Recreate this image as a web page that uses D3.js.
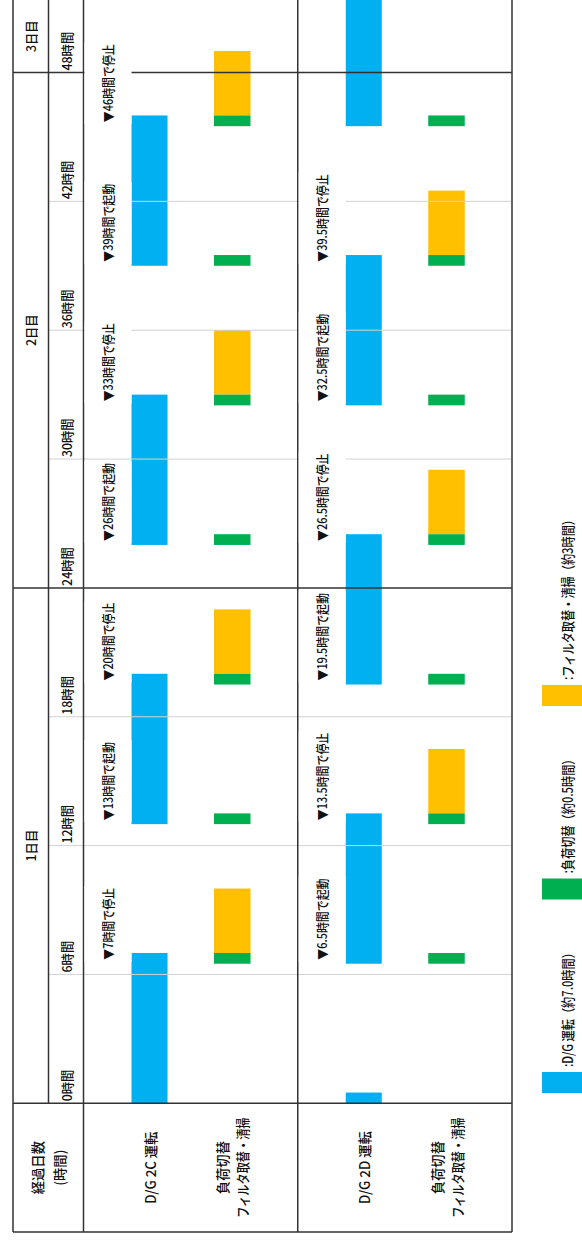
<!DOCTYPE html>
<html>
<head>
<meta charset="utf-8">
<script src="https://cdn.jsdelivr.net/npm/d3@7"></script>
<style>
  body { margin: 0; background: #fff; }
  svg { display: block; }
  text { font-family: "Noto Sans CJK JP", "Noto Sans", sans-serif; fill: #111; font-weight: 500; }
</style>
</head>
<body>
<svg id="chart"></svg>
<script>
// ---- data (hours) ----
const units = ["D/G 2C", "D/G 2D"];
const hourTicks = [0, 6, 12, 18, 24, 30, 36, 42, 48];
const dayNames = ["1日目", "2日目", "3日目"];
const dayStarts = [0, 24, 48];

const run2C = [[0, 7], [13, 20], [26, 33], [39, 46]];
const run2D = [[0, 0.5], [6.5, 13.5], [19.5, 26.5], [32.5, 39.5], [45.5, 52.5]];
const switch2C = [[6.5, 7], [13, 13.5], [19.5, 20], [26, 26.5], [32.5, 33], [39, 39.5], [45.5, 46]];
const switch2D = [[6.5, 7], [13, 13.5], [19.5, 20], [26, 26.5], [32.5, 33], [39, 39.5], [45.5, 46]];
const filter2C = [[7, 10], [20, 23], [33, 36], [46, 49]];
const filter2D = [[13.5, 16.5], [26.5, 29.5], [39.5, 42.5]];

const events2C = [[7, "停止"], [13, "起動"], [20, "停止"], [26, "起動"], [33, "停止"], [39, "起動"], [46, "停止"]];
const events2D = [[6.5, "起動"], [13.5, "停止"], [19.5, "起動"], [26.5, "停止"], [32.5, "起動"], [39.5, "停止"]];

const headerLabels = ["経過日数", "(時間)"];
const switchLabels = ["負荷切替", "フィルタ取替・清掃"];
const legendLabels = [":D/G  運転（約7.0時間）", ":負荷切替（約0.5時間）", ":フィルタ取替・清掃（約3時間）"];
const colors = ["#00b0f0", "#00b050", "#ffc000"];

// ---- layout ----
const W = 582, H = 1240;
const tbl = { left: 13, dayRight: 48.5, timeRight: 83.5, right: 512, headTop: 1103.3, bottom: 1232 };

const svg = d3.select("#chart").attr("width", W).attr("height", H);

const y = d3.scaleLinear().domain([0, 48]).range([tbl.headTop, 72.5]);
const topHour = y.invert(0);
const xGroup = d3.scaleBand().domain(units).range([tbl.timeRight, tbl.right]);
// columns inside one unit group
const col = { label: 23.5, run: [48, 84], sw: [130.5, 167] };

const groups = [
  { unit: units[0], run: run2C, sw: switch2C, filter: filter2C, events: events2C },
  { unit: units[1], run: run2D, sw: switch2D, filter: filter2D, events: events2D },
];

function vtext(parent, x, yy, str, size, anchor, sx) {
  return parent.append("g")
    .attr("transform", `translate(${x},${yy}) rotate(-90) scale(${sx},1)`)
    .append("text")
    .attr("text-anchor", anchor)
    .attr("dominant-baseline", "central")
    .style("font-size", size + "px")
    .text(str);
}

// ---- bars ----
const bars = svg.append("g");
groups.forEach((g) => {
  const x0 = xGroup(g.unit);
  const layer = (data, cols, color) => bars.append("g")
    .selectAll("rect")
    .data(data)
    .join("rect")
    .attr("x", x0 + cols[0])
    .attr("width", cols[1] - cols[0])
    .attr("y", (d) => y(d[1]))
    .attr("height", (d) => y(d[0]) - y(d[1]))
    .attr("fill", color);
  layer(g.run, col.run, colors[0]);
  layer(g.filter, col.sw, colors[2]);
  layer(g.sw, col.sw, colors[1]);
});

// ---- grid ----
const grid = svg.append("g");
grid.selectAll("line.minor")
  .data(hourTicks.filter((h) => h % 24 !== 0))
  .join("line")
  .attr("x1", tbl.dayRight).attr("x2", tbl.right)
  .attr("y1", (d) => y(d)).attr("y2", (d) => y(d))
  .attr("stroke", "#d2d2d2").attr("stroke-width", 1);
grid.selectAll("line.day")
  .data(dayStarts.filter((h) => h > 0))
  .join("line")
  .attr("x1", tbl.left).attr("x2", tbl.right)
  .attr("y1", (d) => y(d)).attr("y2", (d) => y(d))
  .attr("stroke", "#333").attr("stroke-width", 1.5);

// ---- table frame ----
const frame = [
  [tbl.left, 0, tbl.left, tbl.bottom],
  [tbl.dayRight, 0, tbl.dayRight, tbl.headTop],
  [tbl.timeRight, 0, tbl.timeRight, tbl.bottom],
  [xGroup(units[1]), 0, xGroup(units[1]), tbl.bottom],
  [tbl.right, 0, tbl.right, tbl.bottom],
  [tbl.left, tbl.headTop, tbl.right, tbl.headTop],
  [tbl.left, tbl.bottom, tbl.right, tbl.bottom],
];
svg.append("g").selectAll("line")
  .data(frame)
  .join("line")
  .attr("x1", (d) => d[0]).attr("y1", (d) => d[1])
  .attr("x2", (d) => d[2]).attr("y2", (d) => d[3])
  .attr("stroke", "#333").attr("stroke-width", 1.5);

// ---- event annotations ----
const notes = svg.append("g");
groups.forEach((g) => {
  const x0 = xGroup(g.unit);
  g.events.forEach(([h, kind]) => {
    const start = y(kind === "停止" ? h - 0.5 : h) - 4;
    const box = notes.append("rect").attr("fill", "#fff");
    const t = vtext(notes, x0 + col.label, start, `▼${h}時間で${kind}`, 13, "start", 0.84);
    const len = t.node().getComputedTextLength() * 0.84;
    box.attr("x", x0 + 1).attr("width", col.run[0] - 1)
      .attr("y", start - len - 2).attr("height", len + 4);
  });
});

// ---- time and day labels ----
const axis = svg.append("g");
hourTicks.forEach((h) => {
  vtext(axis, (tbl.dayRight + tbl.timeRight) / 2, y(h) - 2, `${h}時間`, 13, "start", 0.95);
});
dayNames.forEach((name, i) => {
  const a = dayStarts[i];
  const b = Math.min(a + 24, topHour);
  vtext(axis, (tbl.left + tbl.dayRight) / 2, y((a + b) / 2), name, 13, "middle", 0.95);
});

// ---- header row ----
const headY = (tbl.headTop + tbl.bottom) / 2;
const head = svg.append("g");
headerLabels.forEach((s, i) => {
  vtext(head, (tbl.left + tbl.timeRight) / 2 + (i - 0.5) * 22, headY, s, 14, "middle", 0.95);
});
groups.forEach((g) => {
  const x0 = xGroup(g.unit);
  vtext(head, x0 + (col.run[0] + col.run[1]) / 2, headY, `${g.unit} 運転`, 14, "middle", 0.95);
  switchLabels.forEach((s, i) => {
    vtext(head, x0 + (col.sw[0] + col.sw[1]) / 2 + (i - 0.5) * 20, headY, s, 14, "middle", i ? 0.8 : 0.95);
  });
});

// ---- legend ----
const legend = svg.append("g");
legendLabels.forEach((s, i) => {
  const base = 1093 - i * 193.5;
  legend.append("rect")
    .attr("x", 542).attr("width", 49)
    .attr("y", base - 21).attr("height", 21)
    .attr("fill", colors[i]);
  vtext(legend, 566.5, base - 26, s, 14, "start", 0.8);
});
</script>
</body>
</html>
